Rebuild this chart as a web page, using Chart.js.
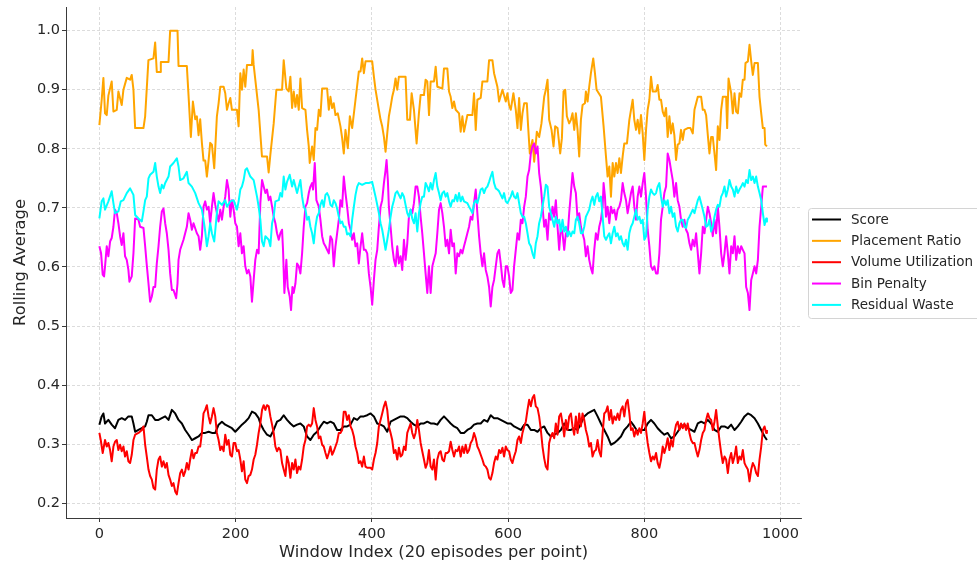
<!DOCTYPE html>
<html>
<head>
<meta charset="utf-8">
<script src="https://cdn.jsdelivr.net/npm/chart.js@4.4.1/dist/chart.umd.min.js"></script>
<style>
html,body{margin:0;padding:0;background:#fff;}
#wrap{position:relative;width:977px;height:567px;}
</style>
</head>
<body>
<div id="wrap"><canvas id="c"></canvas></div>
<script>
// ---- data (window index, rolling average) ----
const seriesNames = ["Score", "Placement Ratio", "Volume Utilization", "Bin Penalty", "Residual Waste"];
const seriesColors = ["#000000", "#FFA500", "#FF0000", "#FF00FF", "#00FFFF"];
const xTicks = [0, 200, 400, 600, 800, 1000];
const yTicks = [0.2, 0.3, 0.4, 0.5, 0.6, 0.7, 0.8, 0.9, 1.0];

const scoreIdx = [0,3.4,5.9,8.3,13.2,18.1,23,27.9,32.8,37.7,42.6,47.5,50,52.5,57.4,62.3,67.2,69.6,72.1,77,81.9,86.8,91.7,96.6,101.5,106.4,111.3,116.2,121.1,126,130.9,135.8,140.7,145.6,150.5,155.4,160.3,165.2,170.1,175,179.9,184.8,189.7,194.6,199.5,204.4,209.3,214.2,219.1,224,228.9,233.8,
236.3,241.2,246.1,251,255.9,260.8,265.7,270.6,275.5,280.4,285.3,290.2,295.1,300,304.9,309.8,314.7,319.6,324.5,329.4,334.3,339.2,344.1,349,353.9,358.8,363.7,368.7,373.6,378.5,383.4,388.3,393.2,398.1,403,407.9,412.8,417.7,422.6,427.5,432.4,437.3,442.2,447.1,452,456.9,461.8,466.7,471.6,476.5,481.4,
486.3,491.2,496.1,501,505.9,510.8,515.7,520.6,525.5,530.4,535.3,540.2,545.1,550,554.9,559.8,564.7,569.6,574.5,579.4,584.3,589.2,594.1,599,603.9,608.8,613.8,618.7,623.6,628.5,633.4,638.3,643.2,648.1,653,657.9,662.8,667.7,672.6,677.5,682.4,687.3,692.2,697.1,702,706.9,711.8,716.7,721.6,726.5,731.4,
736.3,741.2,746.1,751,755.9,760.8,765.7,770.6,775.5,780.4,785.3,790.2,795.1,800,804.9,809.8,814.7,819.6,824.5,829.4,834.3,839.2,844.1,849,853.9,858.8,863.7,868.7,873.6,878.5,883.4,888.3,893.2,898.1,903,907.9,912.8,917.7,922.6,927.5,932.4,937.3,942.2,947.1,952,956.9,961.8,966.7,971.6,976.5,980];
const scoreVal = [.333,.347,.352,.335,.341,.333,.327,.341,.344,.341,.347,.347,.335,.321,.324,.327,.33,.338,.349,.349,.341,.341,.344,.347,.341,.358,.352,.341,.335,.324,.316,.307,.31,.313,.319,.319,.321,.319,.319,.333,.338,.333,.33,.327,.321,.327,.333,.338,.344,.355,.352,.344,
.335,.324,.316,.313,.324,.338,.341,.349,.341,.335,.33,.333,.335,.33,.313,.307,.316,.321,.33,.338,.335,.338,.335,.324,.324,.33,.33,.333,.344,.341,.347,.347,.349,.352,.347,.335,.333,.33,.321,.338,.341,.344,.347,.347,.344,.338,.333,.33,.335,.335,.338,
.335,.335,.333,.341,.347,.341,.335,.33,.327,.319,.319,.324,.327,.333,.335,.335,.341,.338,.349,.344,.344,.341,.338,.335,.335,.33,.327,.324,.333,.333,.324,.324,.321,.327,.33,.319,.313,.316,.319,.324,.335,.324,.324,.327,.324,.335,.347,.352,.355,.358,.347,
.335,.324,.313,.299,.302,.307,.313,.324,.33,.338,.33,.321,.324,.324,.335,.341,.335,.327,.321,.316,.319,.31,.313,.321,.33,.333,.327,.324,.321,.335,.338,.335,.341,.335,.324,.321,.33,.33,.327,.333,.324,.33,.338,.347,.352,.349,.344,.335,.324,.313,.307];

const placeIdx = [0,3.4,5.9,8.3,10.8,13.2,18.1,20.6,25.5,27.9,32.8,35.3,40.2,45.1,47.5,50,52.5,64.7,67.2,72,79.4,81.9,84.3,89.2,90.2,101.5,103.9,114.7,116.2,128.4,130.9,134.3,137.3,140.7,143.1,145.6,148,150.5,152.9,155.4,157.8,160.3,162.7,165.2,168.6,172.5,175,177.5,182.4,184.8,187.3,189.7,192.2,194.6,202,204.4,206.9,209.3,211.8,214.2,216.7,224,225,226.5,228.9,233.8,238.7,246.1,248.5,
251,255.9,259.8,268.2,270.6,274.5,278,280.4,282.9,285.3,287.8,290.2,292.7,295.1,297.6,302.5,304.9,307.4,308.8,312.3,314.7,317.2,319.6,322.1,324.5,327,334.3,336.8,339.2,341.7,344.1,346.6,350,353.9,356.4,358.8,361.3,364.7,367.7,371.1,376,380.9,383.4,385.8,388.3,390.7,400.5,403,405.4,410.3,412.8,415.2,417.7,420.1,422.6,425,427.5,429.9,432.4,434.8,437.3,439.7,449.5,452,455.9,458.4,461.8,465.7,469.1,471.6,476.5,478.9,481.4,483.9,486.3,491.2,493.7,496.1,
503.5,505.9,510.8,513.3,515.7,518.2,520.6,523.1,528,530.4,532.9,535.3,540.2,547.6,550,552.5,554.9,559.8,562.3,569.6,572.1,577,579.4,584.3,586.8,591.7,596.6,599,601.5,603.9,607.8,611.3,613.8,616.2,618.7,621.1,623.6,627.5,629.4,631.9,635.8,638.3,642.2,645.6,649,653,655.4,657.9,660.3,663.8,666.7,669.1,672.6,676.5,679,681.4,683.9,686.3,689.7,692.2,694.6,697.1,699.5,702,704.4,706.9,709.3,712.8,714.2,716.7,719.1,721.6,725,727.5,729.9,
736.3,740.2,743.7,746.1,748.6,751,753.5,755.9,758.4,760.8,763.3,765.7,768.2,770.6,774.5,778,780.4,782.9,785.3,787.8,790.2,792.7,795.1,797.6,800,802.5,804.9,807.4,809.8,812.3,817.2,819.6,822.1,824.5,827,829.4,831.9,834.3,836.8,839.2,841.7,844.1,846.6,849,851.5,853.9,856.4,858.8,863.7,867.7,871.1,873.6,878.5,883.4,885.8,888.3,890.7,893.2,895.6,898.1,900.5,903,905.4,907.9,910.3,912.8,915.2,920.1,921.6,923.6,927.5,929.9,932.4,934.8,937.3,939.7,942.2,944.6,947.1,948.5,952,954.4,956.9,959.3,961.8,966.7,969.1,971.6,974,976.5,977.5,980];
const placeVal = [.84,.883,.92,.86,.857,.89,.914,.863,.866,.897,.874,.9,.92,.917,.925,.9,.835,.835,.855,.95,.953,.98,.93,.93,.947,.947,1.0,1.0,.94,.94,.89,.82,.88,.85,.855,.823,.85,.81,.78,.78,.753,.78,.81,.807,.767,.855,.877,.905,.905,.894,.866,.877,.886,.866,.866,.838,.928,.9,.934,.905,.942,.942,.967,.942,.917,.866,.787,.787,.76,
.79,.843,.9,.9,.95,.902,.897,.922,.869,.897,.871,.891,.866,.919,.869,.866,.832,.804,.776,.804,.781,.835,.832,.866,.855,.902,.902,.866,.888,.869,.877,.857,.86,.838,.818,.792,.832,.801,.855,.835,.883,.931,.931,.953,.928,.948,.948,.922,.9,.866,.849,.838,.82,.795,.826,.855,.871,.888,.9,.919,.9,.922,.922,.849,.849,.894,.866,.809,.86,.891,.891,.917,.914,.857,.914,.914,.939,.905,
.902,.936,.936,.897,.888,.869,.88,.866,.86,.829,.855,.829,.857,.857,.894,.832,.883,.886,.914,.914,.95,.95,.928,.905,.88,.9,.88,.894,.874,.866,.894,.866,.835,.886,.832,.86,.877,.877,.838,.792,.815,.778,.829,.82,.843,.888,.9,.917,.849,.832,.804,.838,.835,.792,.818,.897,.9,.855,.843,.849,.86,.832,.86,.832,.787,.849,.874,.877,.897,.88,.905,.928,.953,.928,.9,
.888,.838,.787,.753,.77,.719,.776,.753,.776,.759,.784,.759,.787,.809,.809,.849,.866,.883,.849,.832,.849,.826,.857,.826,.781,.832,.866,.883,.922,.897,.897,.908,.883,.883,.863,.855,.869,.82,.855,.826,.843,.823,.781,.807,.809,.832,.815,.832,.835,.835,.826,.866,.888,.888,.866,.866,.857,.823,.792,.82,.82,.792,.764,.838,.815,.866,.888,.888,.835,.919,.894,.86,.894,.863,.86,.894,.888,.917,.917,.945,.948,.976,.948,.925,.945,.945,.888,.86,.835,.835,.807,.804];

const volIdx = [0,2,4.9,8.3,10.8,13.2,15.7,18.1,20.6,23,25.5,27.9,30.4,32.8,35.3,37.7,40.2,42.6,45.1,47.5,50,52.5,57.4,62.3,64.7,67.2,69.6,72.1,74.5,77,79.4,81.9,84.3,86.8,89.2,91.7,94.1,96.6,99,101.5,103.9,106.4,108.8,111.3,113.7,116.2,118.6,121.1,123.5,126,128.4,130.9,133.3,135.8,138.2,140.7,143.1,145.6,148,150.5,152.9,155.4,157.8,160.3,162.7,165.2,167.6,170.1,172.5,175,177.5,179.9,182.4,184.8,187.3,189.7,192.2,194.6,197.1,199.5,202,204.4,206.9,209.3,211.8,214.2,216.7,219.1,221.6,224,226.5,228.9,231.4,233.8,
236.3,238.8,241.2,243.7,246.1,248.6,251,253.5,255.9,258.4,260.8,263.3,265.7,268.2,270.6,273.1,275.5,278,280.4,282.9,285.3,287.8,290.2,292.7,295.1,297.6,300,302.5,304.9,307.4,309.8,312.3,314.7,317.2,319.6,322.1,324.5,327,329.4,331.9,334.3,336.8,339.2,341.7,344.1,346.6,349,351.5,353.9,356.4,358.8,361.3,363.7,366.2,368.7,371.1,373.6,376,378.5,380.9,383.4,385.8,388.3,390.7,393.2,398.1,400.5,403,405.4,407.9,410.3,412.8,415.2,417.7,420.1,422.6,425,427.5,429.9,432.4,434.8,437.3,439.7,442.2,444.6,447.1,449.5,452,454.4,456.9,459.3,461.8,464.2,466.7,469.1,471.6,474,476.5,478.9,481.4,483.8,
486.3,488.8,491.2,493.7,496.1,498.6,501,503.5,505.9,508.4,510.8,513.3,515.7,518.2,520.6,523.1,525.5,528,530.4,532.9,535.3,537.8,540.2,542.7,545.1,547.6,550,552.5,554.9,557.4,559.8,562.3,564.7,567.2,569.6,572.1,574.5,577,579.4,581.9,584.3,586.8,589.2,591.7,594.1,596.6,599,601.5,603.9,606.4,608.8,611.3,613.8,616.2,618.7,621.1,623.6,626,628.5,630.9,633.4,635.8,638.3,640.7,643.2,645.6,648.1,650.5,653,655.4,657.9,660.3,662.8,665.2,667.7,670.1,672.6,675,677.5,679.9,682.4,684.8,687.3,689.7,692.2,694.6,697.1,699.5,702,704.4,706.9,709.3,711.8,714.2,716.7,719.1,721.6,724,726.5,728.9,731.4,733.8,
736.3,738.8,741.2,743.7,746.1,748.6,751,753.5,755.9,758.4,760.8,763.3,765.7,768.2,770.6,773.1,775.5,778,780.4,782.9,785.3,787.8,790.2,792.7,795.1,797.6,800,802.5,804.9,807.4,809.8,812.3,814.7,817.2,819.6,822.1,824.5,827,829.4,831.9,834.3,836.8,839.2,841.7,844.1,846.6,849,851.5,853.9,856.4,858.8,861.3,863.7,866.2,868.7,871.1,873.6,876,878.5,880.9,883.4,885.8,888.3,890.7,893.2,895.6,898.1,900.5,903,905.4,907.9,910.3,912.8,915.2,917.7,920.1,922.6,925,927.5,929.9,932.4,934.8,937.3,939.7,942.2,944.6,947.1,949.5,952,954.4,956.9,959.3,961.8,964.2,966.7,969.1,971.6,974,976.5,978.9,980];
const volVal = [.319,.307,.285,.307,.296,.302,.29,.271,.296,.304,.307,.29,.299,.288,.296,.279,.288,.271,.268,.282,.307,.316,.319,.324,.33,.299,.279,.257,.246,.24,.226,.223,.257,.274,.279,.262,.271,.26,.268,.248,.24,.229,.234,.22,.215,.234,.251,.257,.246,.254,.268,.257,.274,.29,.276,.285,.285,.296,.296,.319,.352,.358,.366,.347,.335,.347,.361,.347,.319,.307,.29,.296,.288,.316,.299,.307,.282,.279,.302,.302,.288,.29,.274,.254,.271,.24,.234,.246,.248,.257,.274,.282,.299,.319,
.335,.358,.366,.358,.366,.364,.347,.333,.319,.296,.288,.294,.29,.268,.257,.246,.279,.268,.243,.268,.257,.274,.251,.262,.257,.274,.296,.307,.33,.333,.33,.335,.361,.341,.33,.31,.313,.299,.296,.285,.276,.285,.296,.282,.288,.296,.304,.319,.319,.324,.355,.355,.341,.349,.33,.324,.313,.296,.285,.268,.271,.262,.279,.262,.26,.26,.257,.274,.285,.302,.33,.341,.352,.364,.372,.358,.33,.319,.307,.285,.29,.274,.294,.279,.282,.296,.29,.319,.327,.335,.319,.31,.319,.341,.324,.302,.288,.274,.26,.268,.29,
.262,.257,.274,.24,.274,.285,.288,.274,.271,.285,.285,.288,.304,.29,.279,.29,.288,.296,.279,.296,.285,.299,.285,.29,.302,.307,.319,.31,.296,.29,.282,.274,.265,.262,.257,.243,.24,.251,.268,.279,.274,.29,.285,.294,.279,.296,.29,.288,.274,.268,.279,.288,.307,.313,.302,.319,.33,.338,.358,.375,.364,.378,.383,.364,.361,.347,.324,.296,.276,.262,.257,.302,.313,.319,.31,.335,.316,.347,.352,.335,.313,.341,.324,.347,.352,.33,.316,.347,.319,.352,.33,.352,.341,.324,.313,.296,.302,.279,.288,.29,.307,.288,
.279,.319,.352,.355,.364,.341,.358,.335,.347,.341,.352,.341,.358,.364,.347,.369,.375,.352,.324,.327,.313,.324,.316,.327,.319,.335,.355,.324,.302,.285,.271,.279,.274,.285,.268,.26,.274,.296,.285,.296,.31,.29,.307,.296,.319,.333,.338,.324,.335,.327,.335,.324,.335,.319,.307,.302,.302,.29,.279,.29,.307,.319,.324,.341,.352,.344,.341,.324,.338,.358,.33,.307,.285,.268,.279,.274,.251,.274,.285,.268,.279,.296,.268,.279,.274,.29,.268,.262,.257,.237,.257,.268,.262,.251,.246,.274,.296,.324,.33,.319,.324];

const binIdx = [0,2.5,4.9,6.9,8.3,10.8,13.2,15.7,18.1,20.6,23,25.5,27.9,30.4,32.8,35.3,37.7,40.2,42.6,44.1,47.5,50,52.5,57.4,59.8,64.7,67.2,69.6,72.1,74.5,77,79.4,81.9,84.3,86.8,89.2,91.7,94.1,96.6,99,101.5,103.9,106.4,108.8,112.7,114.7,116.2,118.6,123.5,128.4,130.9,133.3,135.8,138.2,143.1,145.6,148,150.5,152.9,155.4,157.8,160.3,162.7,165.2,167.6,170.1,172.5,175,177.5,179.9,182.4,184.8,187.3,189.7,192.2,194.6,197.1,199.5,202,204.4,206.9,209.3,211.8,214.2,216.7,219.1,221.6,224,226.5,228.9,231.4,233.8,
236.3,238.8,241.2,243.7,246.1,248.6,251,253.5,255.9,258.4,260.8,263.3,265.7,268.2,269.6,271.6,274.5,276.5,279.4,281.4,283.4,285.3,287.8,290.2,292.7,295.1,297.6,300,302.5,304.9,307.4,309.8,312.3,313.7,316.2,318.6,322.1,324.5,327,329.4,331.9,334.3,336.8,339.2,341.7,344.1,346.6,349,351.5,353.9,356.4,358.8,361.3,363.7,366.2,368.7,371.1,373.6,376,378.5,380.9,383.4,385.8,388.3,390.7,393.2,395.6,398.1,400.5,403,405.4,407.9,410.3,412.8,415.2,417.7,420.1,421.6,423.5,425,427.5,429.9,432.4,434.8,437.3,439.7,442.2,444.6,447.1,449.5,452,454.4,456.9,459.3,461.8,464.2,466.7,469.1,471.6,474,476.5,478.9,481.4,483.8,
486.3,488.8,491.2,493.7,496.1,498.6,501,503.5,505.9,508.4,510.8,513.3,515.7,518.2,520.6,523.1,525.5,528,530.4,532.9,535.3,537.8,540.2,542.7,545.1,547.6,550,552.5,554.9,557.4,559.8,562.3,564.7,567.2,569.6,572.1,574.5,577,579.4,581.9,584.3,586.8,589.2,591.7,594.1,596.6,599,601.5,603.9,606.4,608.8,611.3,613.8,616.2,618.7,621.1,623.6,626,628.5,630.9,633.4,635.8,638.3,640.7,643.2,645.6,648.1,650.5,653,655.4,657.9,660.3,662.8,665.2,667.7,670.1,672.6,675,677.5,679.9,682.4,684.8,687.3,689.7,692.2,694.6,697.1,699.5,702,704.4,706.9,709.3,711.8,714.2,716.7,719.1,721.6,724,726.5,728.9,731.4,733.8,
736.3,738.8,740.2,742.2,743.7,746.1,748.6,751,753.5,755.9,758.4,760.8,763.3,765.7,768.2,770.6,773.1,775.5,778,780.4,782.9,785.3,787.8,790.2,792.7,795.1,797.6,800,802.5,804.9,807.4,809.8,812.3,814.7,817.2,819.6,822.1,824.5,827,829.4,831.9,834.3,836.8,839.2,841.7,844.1,846.6,849,851.5,853.9,856.4,858.8,861.3,863.7,866.2,868.7,871.1,873.6,876,878.5,880.9,883.4,885.8,888.3,890.7,893.2,895.6,898.1,900.5,903,905.4,907.9,910.3,912.8,915.2,917.7,920.1,922.6,925,927.5,929.9,932.4,934.8,937.3,939.7,942.2,944.6,947.1,949.5,952,954.4,956.9,959.3,961.8,964.2,966.7,969.1,971.6,974,976.5,980];
const binVal = [.635,.623,.587,.584,.601,.635,.618,.643,.649,.668,.697,.691,.674,.652,.637,.657,.618,.612,.595,.575,.584,.623,.682,.68,.668,.666,.635,.603,.572,.541,.55,.566,.566,.606,.635,.668,.694,.699,.674,.657,.629,.589,.561,.561,.547,.572,.612,.629,.646,.668,.691,.68,.663,.674,.657,.652,.629,.652,.702,.711,.697,.702,.674,.702,.725,.705,.691,.677,.697,.68,.702,.719,.747,.731,.685,.713,.697,.674,.668,.635,.657,.623,.635,.601,.589,.595,.584,.541,.578,.612,.629,.623,
.708,.747,.736,.725,.731,.713,.719,.702,.685,.674,.657,.646,.657,.663,.629,.556,.612,.566,.55,.527,.566,.556,.572,.606,.601,.589,.623,.668,.702,.708,.725,.736,.742,.731,.776,.713,.702,.68,.652,.64,.635,.629,.623,.652,.646,.601,.635,.657,.68,.713,.702,.753,.725,.702,.674,.663,.646,.657,.635,.64,.606,.635,.657,.629,.629,.623,.589,.566,.536,.578,.612,.629,.668,.702,.713,.742,.764,.781,.747,.702,.668,.635,.612,.601,.635,.606,.618,.595,.646,.612,.64,.685,.697,.691,.708,.736,.736,.719,.685,.657,.623,.589,.556,.601,
.556,.601,.612,.623,.657,.697,.708,.691,.668,.635,.646,.623,.663,.635,.64,.589,.623,.618,.629,.623,.635,.646,.657,.668,.685,.68,.708,.731,.691,.652,.623,.601,.623,.595,.584,.566,.533,.566,.578,.601,.623,.629,.606,.578,.566,.601,.601,.584,.556,.561,.601,.629,.657,.646,.68,.674,.702,.719,.753,.764,.792,.804,.809,.792,.804,.759,.736,.702,.668,.68,.646,.691,.68,.702,.685,.713,.668,.629,.668,.657,.629,.657,.652,.691,.725,.759,.736,.725,.68,.691,.668,.657,.646,.618,.635,.612,.598,.589,.629,.657,.646,.668,
.68,.702,.742,.719,.685,.702,.674,.702,.691,.697,.68,.697,.702,.713,.742,.725,.713,.691,.708,.725,.736,.702,.68,.719,.736,.719,.742,.759,.719,.663,.635,.601,.595,.601,.589,.589,.623,.68,.702,.725,.736,.792,.781,.764,.747,.719,.742,.713,.702,.68,.668,.68,.663,.657,.64,.629,.646,.635,.657,.623,.589,.623,.668,.657,.68,.702,.691,.674,.652,.68,.657,.702,.668,.623,.601,.623,.652,.623,.589,.635,.623,.652,.612,.635,.623,.635,.629,.623,.566,.556,.527,.578,.589,.601,.589,.612,.668,.702,.736,.736,.736];

const wasteIdx = [0,3.4,5.9,8.3,13.2,18.1,20.6,23,27.9,31.4,35.3,40.2,45.1,50,52.5,57.4,62.3,64.7,67.2,69.6,72.1,74.5,79.4,81.9,84.3,86.8,89.2,91.7,94.1,96.6,101.5,103.9,108.8,113.7,116.2,118.6,123.5,128.4,130.9,135.8,140.7,145.6,150.5,152.9,155.4,157.8,160.3,162.7,165.2,168.6,172.5,175,179.9,184.8,187.3,192.2,197.1,202,204.4,206.9,209.3,211.8,214.2,216.7,221.6,226.5,231.4,233.8,
236.3,238.8,241.2,243.7,248.6,251,253.5,255.9,258.4,263.3,265.7,268.2,270.6,273.1,275.5,279.4,282.9,285.3,290.2,295.1,297.6,300,302.5,304.9,307.4,309.8,312.3,314.7,317.2,319.6,322.1,324.5,327,329.4,331.9,334.3,336.8,339.2,341.7,344.1,346.6,349,351.5,353.9,356.4,358.8,361.3,363.7,366.2,368.7,371.1,373.6,376,378.5,380.9,385.8,390.7,395.6,400.5,403,405.4,407.9,410.3,412.8,415.2,417.7,420.1,422.6,425,427.5,429.9,432.4,434.8,437.3,439.7,442.2,444.6,447.1,449.5,452,454.4,456.9,459.3,461.8,464.2,466.7,469.1,471.6,474,476.5,478.9,481.4,483.8,
486.3,488.8,491.2,493.7,496.1,498.6,501,503.5,505.9,508.4,510.8,513.3,515.7,518.2,520.6,523.1,525.5,528,530.4,532.9,535.3,540.2,542.7,545.1,547.6,550,552.5,554.9,557.4,559.8,562.3,564.7,567.2,569.6,572.1,574.5,577,579.4,581.9,584.3,586.8,589.2,591.7,594.1,596.6,599,603.9,606.4,608.8,611.3,613.8,616.2,618.7,621.1,623.6,626,628.5,630.9,633.4,635.8,638.3,640.7,643.2,645.6,648.1,650.5,653,655.4,657.9,660.3,662.8,665.2,667.7,670.1,672.6,675,677.5,679.9,682.4,684.8,687.3,689.7,692.2,694.6,697.1,699.5,702,704.4,706.9,709.3,711.8,714.2,716.7,719.1,721.6,724,726.5,728.9,731.4,733.8,
736.3,738.8,741.2,743.7,746.1,748.6,751,753.5,755.9,758.4,760.8,763.3,765.7,768.2,770.6,773.1,775.5,778,780.4,782.9,785.3,787.8,790.2,792.7,795.1,797.6,800,802.5,804.9,807.4,809.8,812.3,814.7,817.2,819.6,822.1,824.5,827,829.4,831.9,834.3,836.8,839.2,841.7,844.1,846.6,849,851.5,853.9,856.4,858.8,861.3,863.7,866.2,868.7,871.1,873.6,876,878.5,880.9,883.4,885.8,888.3,890.7,893.2,895.6,898.1,900.5,903,905.4,907.9,910.3,912.8,915.2,917.7,920.1,922.6,925,927.5,929.9,932.4,934.8,937.3,939.7,942.2,944.6,947.1,949.5,952,954.4,956.9,959.3,961.8,964.2,966.7,969.1,971.6,974,976.5,978.9,980];
const wasteVal = [.682,.711,.716,.697,.711,.728,.708,.691,.694,.711,.713,.725,.733,.722,.688,.682,.677,.694,.713,.719,.75,.756,.761,.776,.753,.736,.725,.739,.733,.742,.753,.77,.776,.784,.77,.747,.75,.761,.742,.736,.725,.708,.697,.68,.66,.635,.652,.674,.657,.643,.691,.711,.705,.713,.702,.711,.713,.697,.711,.731,.736,.747,.764,.767,.753,.747,.719,.702,
.68,.643,.635,.652,.646,.635,.674,.685,.711,.713,.725,.719,.753,.731,.744,.756,.736,.747,.725,.747,.719,.702,.697,.68,.685,.668,.657,.64,.668,.685,.691,.705,.713,.702,.722,.725,.719,.705,.702,.713,.708,.699,.685,.674,.677,.668,.668,.655,.657,.652,.68,.702,.722,.736,.742,.739,.742,.742,.744,.731,.719,.705,.691,.674,.663,.646,.629,.646,.663,.685,.702,.713,.725,.728,.722,.716,.725,.719,.705,.691,.685,.697,.682,.674,.691,.66,.691,.708,.719,.719,.742,.736,.728,
.742,.731,.747,.759,.736,.725,.713,.725,.728,.719,.725,.711,.702,.713,.711,.722,.711,.725,.711,.719,.711,.708,.702,.697,.691,.708,.713,.708,.719,.731,.733,.725,.733,.736,.744,.753,.761,.742,.733,.731,.728,.722,.716,.725,.711,.708,.719,.728,.719,.716,.725,.708,.691,.685,.685,.674,.657,.64,.635,.623,.615,.64,.652,.674,.685,.702,.719,.739,.736,.702,.691,.68,.668,.685,.674,.68,.66,.68,.66,.668,.652,.66,.652,.66,.657,.68,.685,.674,.657,.657,.668,.685,.691,.697,.711,.719,.705,.719,.725,.711,
.719,.685,.652,.646,.652,.657,.64,.657,.668,.652,.657,.646,.652,.64,.635,.646,.629,.657,.668,.674,.685,.697,.68,.685,.674,.68,.646,.652,.697,.719,.731,.725,.722,.725,.736,.742,.719,.702,.713,.705,.713,.691,.702,.685,.691,.668,.66,.674,.68,.68,.668,.666,.68,.685,.691,.697,.691,.702,.713,.719,.708,.697,.685,.668,.67,.68,.66,.668,.685,.697,.705,.702,.719,.725,.736,.719,.731,.747,.736,.731,.719,.736,.725,.731,.736,.742,.736,.747,.742,.764,.747,.753,.742,.753,.736,.725,.713,.691,.671,.682,.677];

const seriesIdx = [scoreIdx, placeIdx, volIdx, binIdx, wasteIdx];
const seriesVal = [scoreVal, placeVal, volVal, binVal, wasteVal];

const FONT = "'DejaVu Sans', 'Liberation Sans', sans-serif";
const TEXT = "#262626";

const datasets = seriesNames.map((name, s) => ({
  label: name,
  data: seriesIdx[s].map((x, i) => ({x: x, y: seriesVal[s][i]})),
  borderColor: seriesColors[s],
  backgroundColor: seriesColors[s],
  borderWidth: 2,
  pointRadius: 0,
  pointHoverRadius: 0,
  tension: 0,
  fill: false,
  borderJoinStyle: 'round',
  order: seriesNames.length - s
}));

const legendPlugin = {
  id: 'mplLegend',
  afterDraw(chart) {
    const ctx = chart.ctx;
    ctx.save();
    const bx = 808.5, by = 208.5, bw = 190, bh = 110, r = 3;
    ctx.beginPath();
    ctx.moveTo(bx + r, by);
    ctx.lineTo(bx + bw - r, by);
    ctx.arcTo(bx + bw, by, bx + bw, by + r, r);
    ctx.lineTo(bx + bw, by + bh - r);
    ctx.arcTo(bx + bw, by + bh, bx + bw - r, by + bh, r);
    ctx.lineTo(bx + r, by + bh);
    ctx.arcTo(bx, by + bh, bx, by + bh - r, r);
    ctx.lineTo(bx, by + r);
    ctx.arcTo(bx, by, bx + r, by, r);
    ctx.closePath();
    ctx.fillStyle = 'rgba(255,255,255,0.85)';
    ctx.fill();
    ctx.strokeStyle = '#d4d4d4';
    ctx.lineWidth = 1;
    ctx.stroke();
    ctx.font = "13.5px " + FONT;
    ctx.textBaseline = 'middle';
    ctx.textAlign = 'left';
    chart.data.datasets.forEach((ds, i) => {
      const y = 219.5 + i * 21.35;
      ctx.beginPath();
      ctx.moveTo(812, y);
      ctx.lineTo(841, y);
      ctx.strokeStyle = ds.borderColor;
      ctx.lineWidth = 2;
      ctx.stroke();
      ctx.fillStyle = TEXT;
      ctx.fillText(ds.label, 851, y + 0.5);
    });
    ctx.restore();
  }
};

new Chart(document.getElementById('c'), {
  type: 'line',
  data: { datasets: datasets },
  plugins: [legendPlugin],
  options: {
    responsive: true,
    maintainAspectRatio: false,
    animation: false,
    events: [],
    layout: { padding: { top: 7, right: 176, left: 0, bottom: 0 } },
    plugins: { legend: { display: false }, tooltip: { enabled: false } },
    scales: {
      x: {
        type: 'linear',
        min: -49,
        max: 1030,
        afterBuildTicks(scale) { scale.ticks = xTicks.map(v => ({value: v})); },
        afterFit(scale) { scale.height = 49; scale.paddingLeft = 0; scale.paddingRight = 0; },
        ticks: {
          autoSkip: false, maxRotation: 0, padding: 4,
          color: TEXT, font: { family: FONT, size: 14.5 },
          callback: (v) => String(v)
        },
        grid: { color: '#d3d3d3', lineWidth: 0.8, drawTicks: true, tickLength: 4, tickColor: '#3a3a3a', tickWidth: 1 },
        border: { display: true, color: '#3a3a3a', width: 1, dash: [3, 2] },
        title: { display: true, text: 'Window Index (20 episodes per point)', color: TEXT,
                 font: { family: FONT, size: 16.3 }, padding: { top: 0, bottom: 4 } }
      },
      y: {
        type: 'linear',
        min: 0.175,
        max: 1.04,
        afterBuildTicks(scale) { scale.ticks = yTicks.map(v => ({value: v})); },
        afterFit(scale) { scale.width = 66; scale.paddingTop = 0; scale.paddingBottom = 0; },
        ticks: {
          autoSkip: false, padding: 2,
          color: TEXT, font: { family: FONT, size: 14.5 },
          callback: (v) => Number(v).toFixed(1)
        },
        grid: { color: '#d3d3d3', lineWidth: 0.8, drawTicks: true, tickLength: 4, tickColor: '#3a3a3a', tickWidth: 1 },
        border: { display: true, color: '#3a3a3a', width: 1, dash: [3, 2] },
        title: { display: true, text: 'Rolling Average', color: TEXT,
                 font: { family: FONT, size: 16.3 }, padding: { top: 11, bottom: 0 } }
      }
    }
  }
});
</script>
</body>
</html>
